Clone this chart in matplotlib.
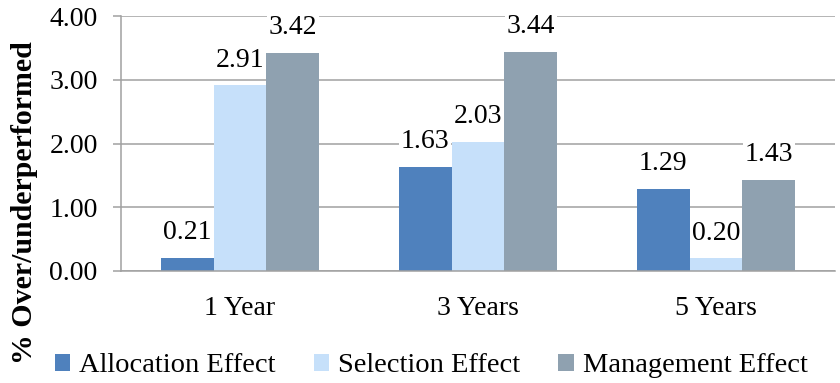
import matplotlib
matplotlib.use("Agg")
import matplotlib.pyplot as plt
import numpy as np
from matplotlib.patches import Patch

plt.rcParams['font.family'] = ['Liberation Serif', 'DejaVu Serif']

periods = ["1 Year", "3 Years", "5 Years"]
series_names = ["Allocation Effect", "Selection Effect", "Management Effect"]
allocation = [0.21, 1.63, 1.29]
selection = [2.91, 2.03, 0.20]
management = [3.42, 3.44, 1.43]
y_ticks = [0.0, 1.0, 2.0, 3.0, 4.0]

colors = ["#4F81BD", "#C6E0FA", "#8FA1B0"]
grid_color = "#A0A0A0"
fs = 20

fig = plt.figure(figsize=(8.4, 3.83), dpi=100)
ax = fig.add_axes([121 / 840, 1 - 271 / 383, (835 - 121) / 840, (271 - 16) / 383])

x = np.arange(len(periods))
width = 1 / 4.5
for i, (vals, c) in enumerate(zip([allocation, selection, management], colors)):
    offs = (i - 1) * width
    ax.bar(x + offs, vals, width, color=c, zorder=2, linewidth=0)
    for xb, v in zip(x + offs, vals):
        ax.annotate(f"{v:.2f}", (xb, v), xytext=(0, 13.5), textcoords="offset points",
                    ha="center", va="baseline", fontsize=fs, zorder=4,
                    bbox=dict(boxstyle="square,pad=0.06", fc="white", ec="none"))

ax.set_xlim(-0.5, 2.5)
ax.set_ylim(0, 4)
ax.set_yticks(y_ticks)
ax.set_yticklabels([f"{t:.2f}" for t in y_ticks], fontsize=fs)
ax.set_xticks(x)
ax.set_xticklabels(periods, fontsize=fs)
ax.tick_params(axis="y", length=5.8, width=1.1, color=grid_color, pad=11)
ax.tick_params(axis="x", length=0, pad=18)
ax.yaxis.grid(True, color=grid_color, linewidth=1.1, zorder=0)
ax.set_axisbelow(True)
for s in ["top", "right"]:
    ax.spines[s].set_visible(False)
for s in ["left", "bottom"]:
    ax.spines[s].set_color(grid_color)
    ax.spines[s].set_linewidth(1.1)

fig.text(25 / 840, 1 - 203 / 383, "% Over/underperformed", rotation=90, ha="center",
         va="center", fontsize=21.5, fontweight="bold")

handles = [Patch(facecolor=c, edgecolor="none") for c in colors]
fig.legend(handles, series_names, loc="center", bbox_to_anchor=(431 / 840, 1 - 366 / 383),
           ncol=3, frameon=False, fontsize=20.5, handlelength=0.55, handleheight=0.55,
           handletextpad=0.3, columnspacing=1.35, borderpad=0, borderaxespad=0)

fig.savefig("out.png", dpi=100)
